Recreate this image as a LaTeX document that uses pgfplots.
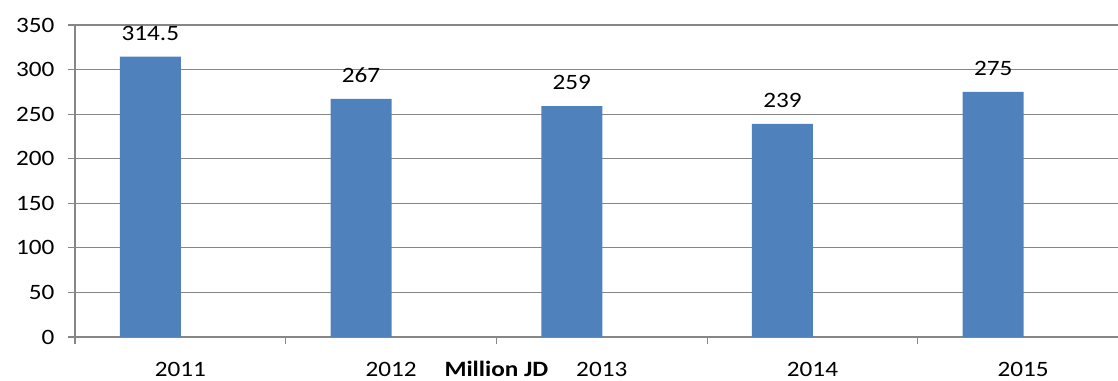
\documentclass[border=0pt]{standalone}
\usepackage{pgfplots}
\pgfplotsset{compat=1.18}
\usepackage{fontspec}
\setmainfont{Carlito}[FakeStretch=1.15]
\definecolor{barblue}{HTML}{4F81BD}
\definecolor{gridgray}{HTML}{868686}
\begin{document}
\begin{tikzpicture}
\begin{axis}[
  scale only axis,
  width=1043bp, height=312bp,
  xmin=-0.5, xmax=4.45,
  ymin=0, ymax=350,
  ytick={0,50,...,350},
  ymajorgrids,
  major grid style={gridgray, line width=1.2pt},
  axis x line*=bottom,
  axis y line*=left,
  axis line style={gridgray, line width=1.2pt},
  every tick/.style={gridgray, line width=1.2pt},
  tick align=outside,
  major tick length=7bp,
  xtick={-0.5,0.5,1.5,2.5,3.5},
  xticklabels={},
  extra x ticks={0,1,2,3,4},
  extra x tick labels={2011,2012,2013,2014,2015},
  extra x tick style={major tick length=0pt, grid=none,
     tick label style={anchor=base, yshift=-40bp}},
  font=\fontsize{22}{26}\selectfont,
  tick label style={font=\fontsize{22}{26}\selectfont},
  /pgf/number format/assume math mode=true,
  yticklabel style={anchor=east, xshift=-10bp},
  ybar,
  bar width=61bp,
  bar shift=-30bp,
  nodes near coords,
  nodes near coords style={font=\fontsize{22}{26}\selectfont, anchor=south, inner sep=0pt, yshift=16bp,
     /pgf/number format/assume math mode=true},
  point meta=explicit symbolic,
  clip=false,
]
\addplot[fill=barblue, draw=none] table[meta=label] {
x y label
0 314.5 314.5
1 267 267
2 259 259
3 239 239
4 275 275
};
\node[font=\fontsize{22}{26}\selectfont\bfseries, anchor=base] at (axis cs:1.5,0) [yshift=-40bp] {Million JD};
\end{axis}
\pgfresetboundingbox
\useasboundingbox ([xshift=-75bp,yshift=-44bp]current axis.south west) rectangle ([yshift=25bp]current axis.north east);
\end{tikzpicture}
\end{document}
